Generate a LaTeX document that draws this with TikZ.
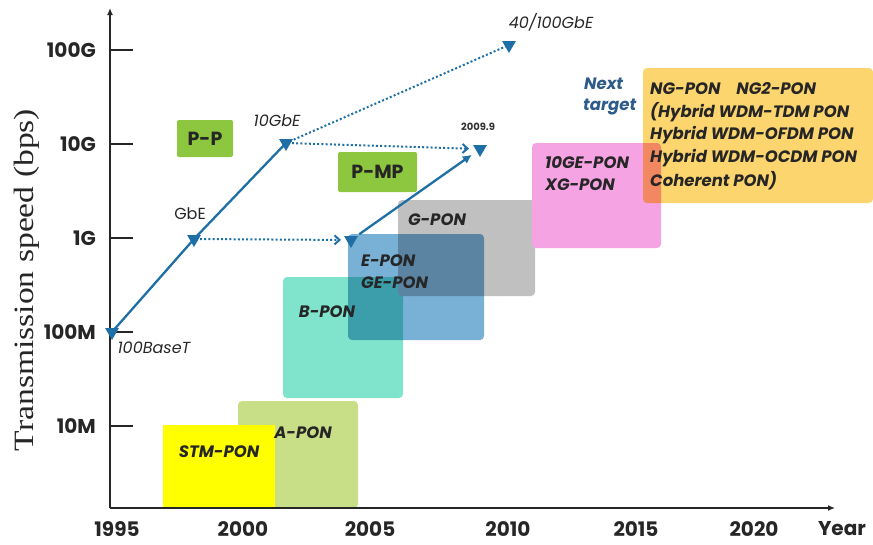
\documentclass[tikz,border=0pt]{standalone}
\usepackage{fontspec}
\setmainfont{Poppins}
\newfontfamily\titleface{Liberation Serif}
\usetikzlibrary{arrows.meta,shapes.geometric}

\definecolor{linkblue}{HTML}{1E6FA5}
\definecolor{nextblue}{HTML}{2E5C8A}
\definecolor{ppgreen}{HTML}{8DC63F}
\definecolor{stmyellow}{HTML}{FFFF00}
\definecolor{apongreen}{HTML}{C8DF88}
\definecolor{bponteal}{HTML}{80E4CC}
\definecolor{eponblue}{HTML}{78B0D6}
\definecolor{gpongray}{HTML}{C0C0C0}
\definecolor{xgpink}{HTML}{F5A3E3}
\definecolor{ngorange}{HTML}{FCD56E}

\begin{document}
\begin{tikzpicture}[x=1pt,y=-1pt,
  axisline/.style={line width=1.3pt, black!85},
  tickline/.style={line width=1.1pt, black!85},
  ticklbl/.style={font=\bfseries\fontsize{20}{22}\selectfont, anchor=east, inner sep=0, text=black!85},
  yearlbl/.style={font=\bfseries\fontsize{20}{22}\selectfont, inner sep=0, text=black!85},
  ponbox/.style={rounded corners=4pt},
  ponlbl/.style={font=\bfseries\itshape\fontsize{16.5}{18}\selectfont, inner sep=0, text=black!85},
  techbox/.style={fill=ppgreen, rounded corners=2pt, inner sep=0, font=\bfseries\fontsize{19}{21}\selectfont, text=black!85},
  marker/.style={regular polygon, regular polygon sides=3, shape border rotate=180, fill=linkblue, inner sep=0, minimum size=16pt},
  ethlbl/.style={font=\itshape\fontsize{16}{18}\selectfont, inner sep=0, text=black!85},
  solidlink/.style={line width=2.3pt, linkblue},
  dotlink/.style={line width=2pt, linkblue, dash pattern=on 2pt off 2.2pt},
]
\useasboundingbox (0,0) rectangle (873,544);

% ---------- PON generation boxes ----------
\fill[apongreen, ponbox] (238,401) rectangle (358,508);
\fill[stmyellow] (163,425) rectangle (275,508);
\fill[bponteal, ponbox] (283,277) rectangle (403,398);
\fill[gpongray, ponbox] (398,200) rectangle (535,296);
\fill[eponblue, ponbox, blend mode=multiply] (348,234) rectangle (484,340);
\fill[xgpink, ponbox] (532,143) rectangle (661,248);
\fill[ngorange, ponbox, blend mode=multiply] (643,68) rectangle (873,203);

% ---------- axes ----------
\coordinate (origin) at (110,508);
\coordinate (ytop) at (110,8);
\coordinate (xend) at (835,508);
\draw[axisline, -{Latex[length=7pt,width=6pt]}] (origin) -- (ytop);
\draw[axisline, -{Latex[length=7pt,width=6pt]}] (origin) -- (xend);

% speed ticks
\foreach \yy/\txt/\nm in {50/100G/t100g, 144/10G/t10g, 238/1G/t1g, 332/100M/t100m, 426/10M/t10m}{
  \coordinate (\nm) at (110,\yy);
  \draw[tickline] (\nm) -- ++(23,0);
  \node[ticklbl] (\nm-l) at (96,\yy) {\txt};
}

% year labels
\foreach \xx/\txt in {117/1995, 243/2000, 370/2005, 508/2010, 636/2015, 754/2020}{
  \node[yearlbl] (y\txt) at (\xx,529) {\txt};
}
\node[yearlbl] (ylab) at (842,529) {Year};

% vertical axis title
\node[rotate=90, inner sep=0, font=\titleface\fontsize{28}{30}\selectfont, text=black!85] (ytitle) at (27,280)
  {\scalebox{1.2}[1]{Transmission speed (bps)}};

% ---------- PON labels ----------
\node[ponlbl] (stm) at (219,452) {STM-PON};
\node[ponlbl] (apon) at (303,433) {A-PON};
\node[ponlbl] (bpon) at (327,312) {B-PON};
\node[ponlbl, anchor=west] (epon) at (361,261) {E-PON};
\node[ponlbl, anchor=west] (gepon) at (361,283) {GE-PON};
\node[ponlbl] (gpon) at (437,220) {G-PON};
\node[ponlbl, anchor=west] (tenge) at (545,163) {10GE-PON};
\node[ponlbl, anchor=west] (xgpon) at (545,185) {XG-PON};
\node[ponlbl, anchor=west] (ng1) at (650,89) {NG-PON\hspace{16pt}NG2-PON};
\node[ponlbl, anchor=west] (ng2) at (650,112) {(Hybrid WDM-TDM PON};
\node[ponlbl, anchor=west] (ng3) at (650,135) {Hybrid WDM-OFDM PON};
\node[ponlbl, anchor=west] (ng4) at (650,158) {Hybrid WDM-OCDM PON};
\node[ponlbl, anchor=west] (ng5) at (650,181) {Coherent PON)};
\node[ponlbl, text=nextblue, anchor=west] (nxt1) at (584,84) {Next};
\node[ponlbl, text=nextblue, anchor=west] (nxt2) at (583,107) {target};

% ---------- topology tags ----------
\node[techbox, minimum width=56pt, minimum height=37pt] (pp) at (205,138.5) {P-P};
\node[techbox, minimum width=79pt, minimum height=40pt] (pmp) at (377.5,172) {P-MP};

% ---------- Ethernet / PON speed milestones ----------
\node[marker] (m100) at (112,332) {};
\node[marker] (mgbe) at (194,239) {};
\node[marker] (m10g) at (286,143) {};
\node[marker] (m40) at (509,45) {};
\node[marker] (m2009) at (480,149) {};
\node[marker] (m1g) at (351,240) {};

\node[ethlbl] (l100) at (154,348) {100BaseT};
\node[ethlbl, font=\fontsize{16}{18}\selectfont] (lgbe) at (190,214) {GbE};
\node[ethlbl] (l10g) at (277,121) {10GbE};
\node[ethlbl] (l40) at (551,22) {40/100GbE};
\node[inner sep=0, font=\bfseries\fontsize{10}{12}\selectfont, text=black!80] (l2009) at (478,127) {2009.9};

% solid P-P growth line
\draw[solidlink] (m100.center) -- (mgbe.center) -- (m10g.center);
% dotted projections
\draw[dotlink] (m10g.center) -- (m40.center);
\draw[dotlink, -{Straight Barb[length=5pt,width=9pt,line width=2pt]}, shorten >=11pt, shorten <=6pt] (m10g.center) -- (m2009.center);
\draw[dotlink, -{Straight Barb[length=5pt,width=9pt,line width=2pt]}, shorten >=10pt, shorten <=6pt] (mgbe.center) -- (m1g.center);
% solid P-MP growth line
\draw[solidlink, -{Latex[length=9pt,width=9pt]}, shorten <=10pt, shorten >=10pt] (m1g.center) -- (m2009.center);

\end{tikzpicture}
\end{document}
